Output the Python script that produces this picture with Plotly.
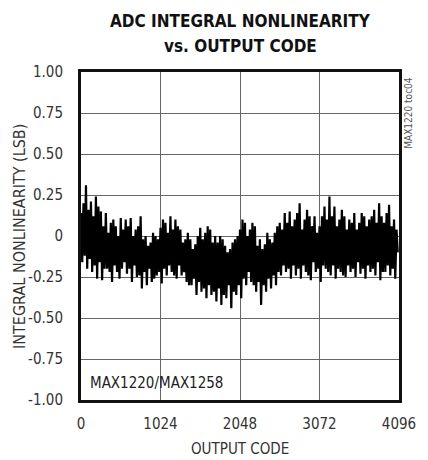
import plotly.graph_objects as go

# INL, every 16 codes, as alternating peaks and troughs:
# code 64k -> peak_a, 64k+16 -> trough_a, 64k+32 -> peak_b, 64k+48 -> trough_b
code_peak_a = list(range(0, 4096, 64))
code_trough_a = list(range(16, 4096, 64))
code_peak_b = list(range(32, 4096, 64))
code_trough_b = list(range(48, 4096, 64))

peak_a = [0.14, 0.31, 0.21, 0.24, 0.15, 0.14, 0.08, 0.06, 0.11, 0.10,
          0.11, 0.04, 0.12, 0.00, -0.04, 0.00, 0.05, 0.08, 0.12, 0.10,
          0.04, -0.02, -0.02, -0.05, 0.05, 0.02, 0.04, 0.00, 0.00, -0.06,
          -0.08, -0.02, 0.04, 0.08, 0.04, 0.06, -0.02, -0.05, -0.02, 0.02,
          0.08, 0.14, 0.15, 0.10, 0.20, 0.10, 0.12, 0.12, 0.06, 0.18,
          0.24, 0.18, 0.10, 0.12, 0.10, 0.14, 0.08, 0.12, 0.10, 0.16,
          0.20, 0.08, 0.19, 0.10]
trough_a = [-0.16, -0.20, -0.22, -0.26, -0.27, -0.20, -0.28, -0.22, -0.20, -0.23,
            -0.28, -0.25, -0.32, -0.30, -0.28, -0.24, -0.29, -0.24, -0.22, -0.26,
            -0.24, -0.28, -0.30, -0.36, -0.34, -0.38, -0.36, -0.40, -0.42, -0.38,
            -0.44, -0.36, -0.38, -0.30, -0.28, -0.34, -0.42, -0.34, -0.32, -0.30,
            -0.24, -0.22, -0.26, -0.24, -0.26, -0.22, -0.27, -0.22, -0.28, -0.20,
            -0.24, -0.26, -0.22, -0.25, -0.22, -0.25, -0.23, -0.26, -0.22, -0.24,
            -0.27, -0.22, -0.24, -0.26]
peak_b = [0.20, 0.16, 0.12, 0.18, 0.06, 0.02, 0.10, 0.00, 0.04, 0.06,
          0.00, 0.06, -0.02, -0.06, 0.02, -0.02, 0.10, 0.02, 0.04, 0.06,
          -0.04, 0.02, -0.08, 0.00, -0.02, 0.06, -0.04, -0.04, -0.02, -0.10,
          -0.04, 0.00, 0.10, 0.00, 0.08, -0.06, -0.08, 0.02, -0.04, 0.06,
          0.04, 0.08, 0.06, 0.14, 0.04, 0.16, 0.06, 0.02, 0.12, 0.10,
          0.12, 0.06, 0.16, 0.04, 0.08, 0.04, 0.14, 0.06, 0.12, 0.08,
          0.12, 0.14, 0.06, 0.04]
trough_b = [-0.12, -0.14, -0.18, -0.16, -0.20, -0.22, -0.18, -0.26, -0.16, -0.20,
            -0.18, -0.24, -0.22, -0.20, -0.26, -0.22, -0.20, -0.18, -0.24, -0.18,
            -0.22, -0.30, -0.26, -0.28, -0.32, -0.30, -0.34, -0.32, -0.36, -0.30,
            -0.34, -0.30, -0.26, -0.22, -0.30, -0.28, -0.30, -0.26, -0.24, -0.22,
            -0.18, -0.20, -0.18, -0.20, -0.18, -0.24, -0.16, -0.20, -0.18, -0.22,
            -0.18, -0.20, -0.24, -0.18, -0.20, -0.16, -0.20, -0.18, -0.20, -0.16,
            -0.22, -0.18, -0.20, -0.10]

y_ticks = [1.0, 0.75, 0.5, 0.25, 0, -0.25, -0.5, -0.75, -1.0]
y_labels = ["1.00", "0.75", "0.50", "0.25", "0", "-0.25", "-0.50", "-0.75", "-1.00"]
x_ticks = [0, 1024, 2048, 3072, 4096]

NARROW = "DejaVu Sans Condensed, Liberation Sans Narrow, Arial Narrow, Liberation Sans"

xs, ys = [], []
for k in range(len(code_peak_a)):
    xs += [code_peak_a[k], code_trough_a[k], code_peak_b[k], code_trough_b[k]]
    ys += [peak_a[k], trough_a[k], peak_b[k], trough_b[k]]

fig = go.Figure()
fig.add_trace(go.Scatter(
    x=xs, y=ys, mode="lines",
    line=dict(color="#000000", width=2.2),
    showlegend=False, hoverinfo="skip",
))

axis_common = dict(
    showline=True, linecolor="#111111", linewidth=3, mirror=True,
    showgrid=True, gridcolor="#666666", gridwidth=1,
    zeroline=False, ticks="",
    tickfont=dict(family=NARROW, size=15, color="#333333"),
)

# page body has an 8px margin, so the figure is 8px smaller than the window
fig.update_layout(
    width=420, height=452,
    paper_bgcolor="white", plot_bgcolor="white",
    margin=dict(l=73, r=19, t=64, b=60),
    xaxis=dict(range=[0, 4096], tickvals=x_ticks, ticklabelstandoff=8, **axis_common),
    yaxis=dict(range=[-1, 1], tickvals=y_ticks, ticktext=y_labels, ticklabelstandoff=12,
               **axis_common),
    font=dict(family=NARROW, color="#333333"),
)

# title (two lines, bold condensed)
fig.add_annotation(
    text="<b>ADC INTEGRAL NONLINEARITY</b>", xref="paper", yref="paper",
    x=0.5, y=(400 - 20.5) / 328, xanchor="center", yanchor="middle", showarrow=False,
    font=dict(family=NARROW, size=17, color="#111111"),
)
fig.add_annotation(
    text="<b>vs. OUTPUT CODE</b>", xref="paper", yref="paper",
    x=0.5, y=(400 - 46) / 328, xanchor="center", yanchor="middle", showarrow=False,
    font=dict(family=NARROW, size=17, color="#111111"),
)

# axis titles
fig.add_annotation(
    text="OUTPUT CODE", xref="paper", yref="paper",
    x=0.5, y=(400 - 449) / 328, xanchor="center", yanchor="middle", showarrow=False,
    font=dict(family=NARROW, size=15, color="#333333"),
)
fig.add_annotation(
    text="INTEGRAL NONLINEARITY (LSB)", xref="paper", yref="paper",
    x=(17 - 81) / 328, y=0.5, xanchor="center", yanchor="middle", showarrow=False,
    textangle=-90, font=dict(family=NARROW, size=16, color="#333333"),
)

# part number label inside plot
fig.add_annotation(
    text="MAX1220/MAX1258", xref="paper", yref="paper",
    x=(88 - 81) / 328, y=(400 - 383) / 328, xanchor="left", yanchor="middle",
    showarrow=False, font=dict(family=NARROW, size=15, color="#222222"),
)

# figure tag on right
fig.add_annotation(
    text="MAX1220 toc04", xref="paper", yref="paper",
    x=(418 - 81) / 328, y=(400 - 75) / 328, xanchor="center", yanchor="top",
    showarrow=False, textangle=-90,
    font=dict(family=NARROW, size=10, color="#555555"),
)

fig.write_html("out.html")
